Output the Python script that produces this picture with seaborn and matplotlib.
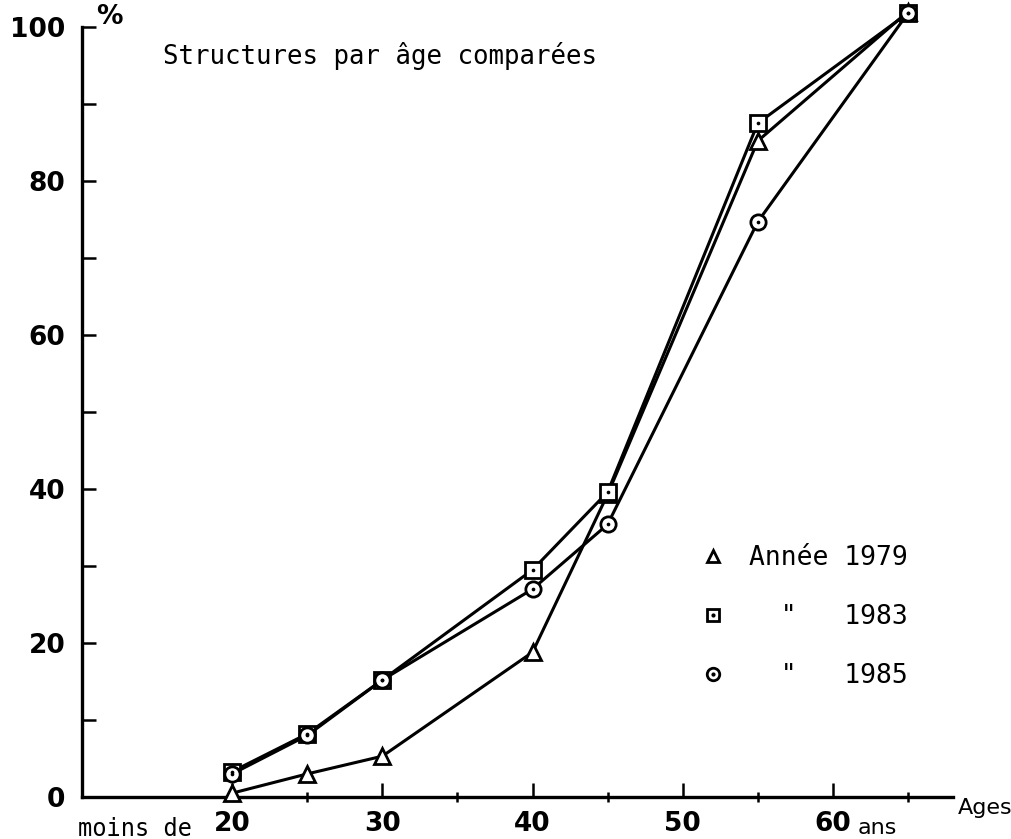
import matplotlib
matplotlib.use("Agg")
import matplotlib.pyplot as plt
from matplotlib.lines import Line2D
import seaborn as sns
import pandas as pd

# ---- data ----
ages = [20, 25, 30, 40, 45, 55, 65]
pct_1979 = [0.5, 3.0, 5.3, 18.8, 39.3, 85.2, 102.0]
pct_1983 = [3.3, 8.2, 15.2, 29.5, 39.6, 87.5, 101.8]
pct_1985 = [3.0, 8.0, 15.2, 27.0, 35.4, 74.7, 101.8]
years = ["1979", "1983", "1985"]
x_major = [20, 30, 40, 50, 60]
x_major_labels = ["20", "30", "40", "50", "60"]
x_minor = [25, 35, 45, 55, 65]
y_major = [0, 20, 40, 60, 80, 100]
y_minor = [10, 30, 50, 70, 90]

df = pd.DataFrame({
    "age": ages * 3,
    "pct": pct_1979 + pct_1983 + pct_1985,
    "year": [years[0]] * len(ages) + [years[1]] * len(ages) + [years[2]] * len(ages),
})

sns.set_style("ticks")
plt.rcParams["font.family"] = ["DejaVu Sans"]
plt.rcParams["text.color"] = "black"
plt.rcParams["xtick.color"] = "black"
plt.rcParams["ytick.color"] = "black"
plt.rcParams["axes.edgecolor"] = "black"

W, H = 1012, 839
fig = plt.figure(figsize=(W / 100, H / 100), dpi=100)
ax = fig.add_axes([82 / W, 1 - 797 / H, (953 - 82) / W, (797 - 27) / H])

markers = {"1979": "^", "1983": "s", "1985": "o"}
palette = {y: "black" for y in years}
sns.lineplot(data=df, x="age", y="pct", hue="year", style="year",
             markers=markers, dashes=False, palette=palette,
             markersize=11, markerfacecolor="white", markeredgecolor="black",
             markeredgewidth=2.0, linewidth=2.2, legend=False,
             clip_on=False, ax=ax, zorder=3)
# centre dots of the square and circle markers
sns.scatterplot(data=df[df["year"] != "1979"], x="age", y="pct",
                color="black", s=7, linewidth=0, legend=False,
                clip_on=False, ax=ax, zorder=4)

ax.set_xlim(10, 68)
ax.set_ylim(0, 100)
ax.set_xlabel("")
ax.set_ylabel("")
sns.despine(ax=ax)
for s in ("left", "bottom"):
    ax.spines[s].set_linewidth(2.4)
    ax.spines[s].set_color("black")

ax.set_xticks(x_major)
ax.set_xticklabels(x_major_labels)
ax.set_xticks(x_minor, minor=True)
ax.set_yticks(y_major)
ax.set_yticks(y_minor, minor=True)
ax.tick_params(axis="y", which="both", direction="in", length=10, width=1.8,
               pad=12, labelsize=19, colors="black")
ax.tick_params(axis="x", which="major", direction="in", length=10, width=1.8,
               pad=10, labelsize=19, colors="black")
ax.tick_params(axis="x", which="minor", direction="inout", length=7, width=1.8,
               colors="black")
for lab in ax.get_xticklabels() + ax.get_yticklabels():
    lab.set_fontweight("bold")

# extra texts
fig.text(96 / W, 1 - 17 / H, "%", fontsize=19, fontweight="bold",
         ha="left", va="center")
fig.text(163 / W, 1 - 56 / H, "Structures par âge comparées",
         family="DejaVu Sans Mono", fontsize=18.5, ha="left", va="center")
fig.text(192 / W, 1 - 829 / H, "moins de", family="DejaVu Sans Mono",
         fontsize=17, ha="right", va="center")
fig.text(858 / W, 1 - 828 / H, "ans", family="DejaVu Sans",
         fontsize=16, ha="left", va="center")
fig.text(958 / W, 1 - 808 / H, "Ages", family="DejaVu Sans",
         fontsize=16, ha="left", va="center")

# legend
def proxy(m, dot):
    h = Line2D([], [], marker=m, ls="none", mfc="white", mec="black",
               ms=9, mew=2)
    if dot:
        d = Line2D([], [], marker="o", ls="none", mfc="black", mec="black",
                   ms=2)
        return (h, d)
    return h

handles = [proxy("^", False), proxy("s", True), proxy("o", True)]
labels = ["Année 1979", '  "   1983', '  "   1985']
ax.legend(handles, labels, loc="upper left",
          bbox_to_anchor=(700 / W, 1 - 545 / H), bbox_transform=fig.transFigure,
          frameon=False, prop={"family": "DejaVu Sans Mono", "size": 19},
          handlelength=1.0, handletextpad=0.85, labelspacing=1.25,
          borderpad=0, borderaxespad=0)

fig.savefig("out.png", dpi=100, facecolor="white")
